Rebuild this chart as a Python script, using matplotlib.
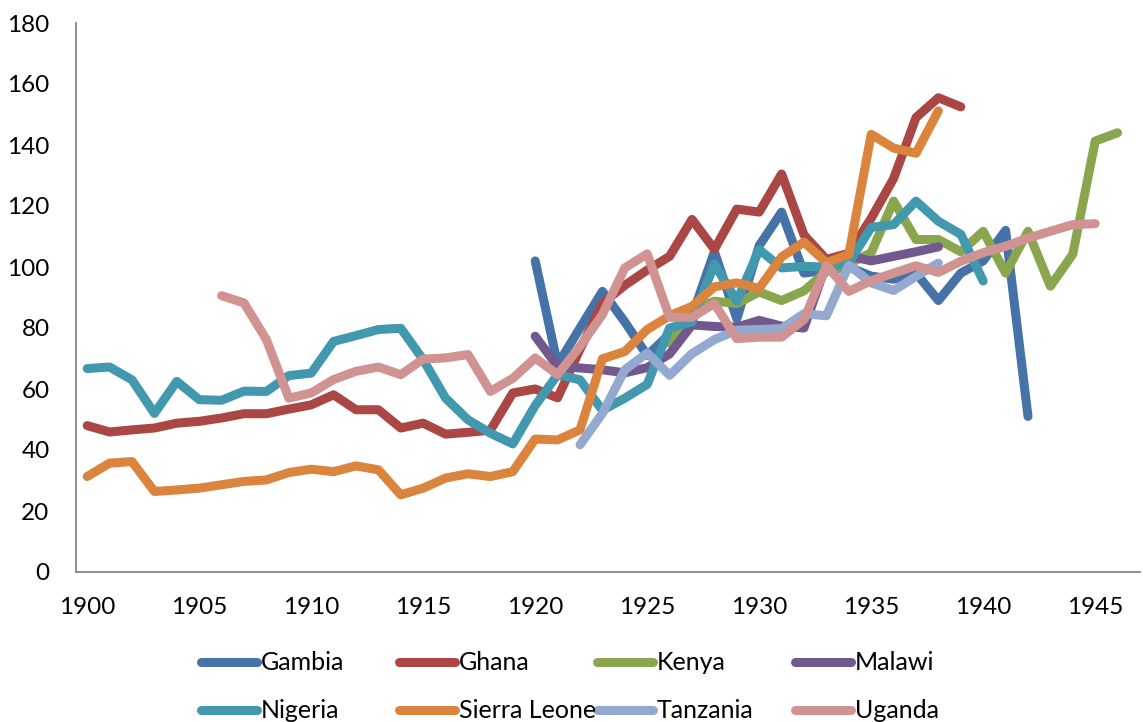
import numpy as np
import matplotlib
matplotlib.use("Agg")
import matplotlib.pyplot as plt
from matplotlib.lines import Line2D

# values, one list per country, with its first year
countries = ["Gambia", "Ghana", "Kenya", "Malawi",
             "Nigeria", "Sierra Leone", "Tanzania", "Uganda"]
colors = ["#4572A7", "#AA4643", "#89A54E", "#71588F",
          "#4198AF", "#DB843D", "#93A9CF", "#D19392"]

gambia_start = 1920
gambia = [102, 68, 80, 92, 82, 71, 78, 84, 105, 83, 107, 118, 98, 99, 100,
          97, 96, 98, 89, 98, 102, 112, 51]

ghana_start = 1900
ghana = [48.0, 45.9, 46.6, 47.2, 48.8, 49.4, 50.5, 51.9, 51.9, 53.4, 54.8,
         58.1, 53.2, 53.2, 47.2, 48.8, 45.2, 45.8, 46.5, 58.7, 60.0, 57.1,
         73, 88, 94, 99, 103.5, 115.6, 105.8, 119, 118, 130.5, 110.5, 102.5,
         104.5, 116, 129, 149, 155.5, 152.5]

kenya_start = 1926
kenya = [75, 86, 88.8, 88, 91.8, 89, 92.2, 98.5, 101, 104.7, 121.6, 109,
         109, 105, 111.7, 98, 111.7, 93.7, 104.2, 141.3, 144]

malawi_start = 1920
malawi = [77.3, 67.4, 66.9, 66.3, 65.3, 67, 71.5, 81, 80.5, 80.3, 82.5,
          80.6, 80, 101, 103.6, 102, 103.5, 105, 106.6]

nigeria_start = 1900
nigeria = [66.7, 67.2, 63, 52, 62.5, 56.5, 56.3, 59.3, 59.2, 64.4, 65.2,
           75.6, 77.5, 79.5, 79.9, 69.6, 57, 49.9, 45.5, 42, 54.6, 64.7, 63,
           53, 57, 61.5, 80, 82, 101, 88.8, 105.7, 99.7, 100.2, 100, 101.4,
           113, 113.9, 121.6, 115, 110.7, 95.4]

sierra_leone_start = 1900
sierra_leone = [31.3, 35.7, 36.2, 26.4, 26.9, 27.5, 28.6, 29.7, 30.2, 32.6,
                33.7, 32.9, 34.8, 33.5, 25.3, 27.5, 30.8, 32.2, 31.3, 32.9,
                43.6, 43.3, 46.6, 69.9, 72.3, 79.5, 84, 87.1, 93.5, 94.8, 93,
                103.3, 108.2, 101.4, 104.1, 143.5, 139, 137.3, 151.2]

tanzania_start = 1922
tanzania = [41.7, 52, 66.3, 71.8, 64.5, 71.6, 76.2, 79.3, 79.5, 79.8, 84.7,
            84, 100.6, 94.8, 92.3, 96.9, 101.3]

uganda_start = 1906
uganda = [90.6, 88.2, 76.2, 57, 58.7, 63.1, 65.8, 67.2, 64.7, 69.8, 70.2,
          71.3, 59.2, 63.5, 70.2, 64.7, 74, 84.4, 99.7, 104.3, 83.5, 83.5,
          88, 76.5, 77, 77, 82.8, 100.5, 92, 95.5, 98, 100.4, 98.2, 101.9,
          104.7, 106.8, 109.5, 111.7, 113.9, 114.2]

series = [(gambia_start, gambia), (ghana_start, ghana), (kenya_start, kenya),
          (malawi_start, malawi), (nigeria_start, nigeria),
          (sierra_leone_start, sierra_leone), (tanzania_start, tanzania),
          (uganda_start, uganda)]

xticks = list(range(1900, 1946, 5))
yticks = list(range(0, 181, 20))

plt.rcParams['font.family'] = ['Lato', 'DejaVu Sans']

W, H = 1143, 722
fig = plt.figure(figsize=(W / 100, H / 100), dpi=100)
ax = fig.add_axes([76 / W, 1 - 572 / H, (1140 - 76) / W, (572 - 23) / H])

for (start, vals), name, col in zip(series, countries, colors):
    yrs = np.arange(start, start + len(vals))
    ax.plot(yrs, vals, color=col, lw=6.5, solid_capstyle='round',
            solid_joinstyle='round', label=name)

ax.set_xlim(1899.5, 1947)
ax.set_ylim(0, 180)
ax.set_xticks(xticks)
ax.set_yticks(yticks)
ax.tick_params(axis='both', length=0, labelsize=17.5, colors='black')
ax.tick_params(axis='y', pad=19)
ax.tick_params(axis='x', pad=18)

for side in ['top', 'right']:
    ax.spines[side].set_visible(False)
for side in ['left', 'bottom']:
    ax.spines[side].set_color('#868686')
    ax.spines[side].set_linewidth(1.3)

# legend laid out like the spreadsheet one: 4 equal columns, 2 rows
for i, (name, col) in enumerate(zip(countries, colors)):
    row, c = divmod(i, 4)
    x0 = 201 + 198 * c
    yy = 1 - (662 + 48 * row) / H
    fig.add_artist(Line2D([x0 / W, (x0 + 56) / W], [yy, yy], color=col,
                          lw=6.5, solid_capstyle='round',
                          transform=fig.transFigure))
    fig.text((x0 + 60) / W, yy, name, fontsize=18, va='center', ha='left')

fig.savefig("out.png", dpi=100)
